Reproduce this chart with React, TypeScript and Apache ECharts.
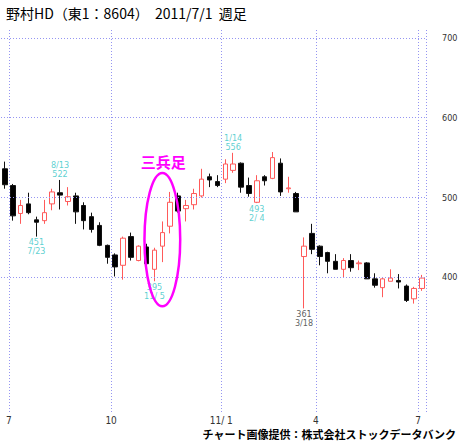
import React, { useEffect, useRef } from "react";
import * as echarts from "echarts";

// Weekly candles (week-ending dates), 2010/6/25 - 2011/7/1
const categories = [
  "2010/6/25", "2010/7/2", "2010/7/9", "2010/7/16", "2010/7/23", "2010/7/30",
  "2010/8/6", "2010/8/13", "2010/8/20", "2010/8/27", "2010/9/3", "2010/9/10",
  "2010/9/17", "2010/9/24", "2010/10/1", "2010/10/8", "2010/10/15", "2010/10/22",
  "2010/10/29", "2010/11/5", "2010/11/12", "2010/11/19", "2010/11/26", "2010/12/3",
  "2010/12/10", "2010/12/17", "2010/12/24", "2010/12/31", "2011/1/7", "2011/1/14",
  "2011/1/21", "2011/1/28", "2011/2/4", "2011/2/11", "2011/2/18", "2011/2/25",
  "2011/3/4", "2011/3/11", "2011/3/18", "2011/3/25", "2011/4/1", "2011/4/8",
  "2011/4/15", "2011/4/22", "2011/4/29", "2011/5/6", "2011/5/13", "2011/5/20",
  "2011/5/27", "2011/6/3", "2011/6/10", "2011/6/17", "2011/6/24", "2011/7/1",
];

const opens = [
  536, 515, 480, 492, 472, 471, 492, 506, 495, 502, 490, 476, 465, 440,
  428, 415, 451, 421, 438, 410, 439, 464, 502, 486, 491, 502, 526, 520,
  523, 534, 543, 515, 494, 526, 524, 543, 511, 505, 426, 455, 439, 431,
  420, 410, 421, 417, 418, 398, 387, 395, 396, 389, 373, 386,
];
const closes = [
  516, 477, 490, 481, 469, 481, 507, 503, 501, 482, 471, 460, 440, 425,
  413, 449, 425, 439, 417, 434, 456, 494, 483, 490, 505, 523, 522, 515,
  542, 542, 513, 505, 521, 521, 550, 507, 512, 482, 439, 435, 426, 420,
  410, 421, 412, 418, 398, 390, 398, 399, 394, 371, 386, 399,
];
const lows = [
  511, 471, 467, 479, 451, 467, 484, 485, 490, 467, 460, 456, 439, 417,
  401, 397, 421, 420, 416, 395, 419, 455, 481, 470, 485, 500, 513, 513,
  518, 531, 506, 501, 493, 515, 523, 502, 506, 482, 361, 429, 415, 405,
  410, 400, 407, 409, 398, 387, 375, 395, 386, 369, 367, 383,
];
const highs = [
  545, 517, 497, 506, 476, 497, 511, 522, 513, 506, 494, 481, 469, 441,
  430, 451, 456, 440, 442, 437, 470, 507, 506, 497, 511, 536, 530, 528,
  548, 556, 544, 525, 528, 528, 557, 549, 526, 507, 450, 467, 440, 432,
  429, 424, 429, 421, 419, 405, 400, 410, 404, 391, 388, 403,
];

// x tick positions (category index whose left boundary gets the line) and labels
const xTickIndex = [1, 14, 28, 40, 53];
const xTickLabels = ["7", "10", "11/ 1", "4", "7"];
// y grid values
const yGridValues = [400, 500, 600, 700];

// high / low annotations
const annIndex = [4, 7, 19, 29, 32, 38];
const annDate = ["7/23", "8/13", "11/ 5", "1/14", "2/ 4", "3/18"];
const annSide = ["low", "high", "low", "high", "low", "low"];
const annColor = ["#33c4c4", "#33c4c4", "#33c4c4", "#33c4c4", "#33c4c4", "#333333"];

// 三兵足 pattern candles
const patternFirst = 19;
const patternLast = 21;
const patternText = "三兵足";

const titleText = "野村HD（東1：8604）  2011/7/1  週足";
const creditText = "チャート画像提供：株式会社ストックデータバンク";

const narrowFont = '"Liberation Sans Narrow", "DejaVu Sans Condensed", "Arial Narrow", sans-serif';
const cjkFont = '"Noto Sans CJK JP", "Noto Sans", sans-serif';
const gridColor = "#9595f2";

export default function App() {
  const ref = useRef<HTMLDivElement>(null);

  useEffect(() => {
    const el = ref.current;
    if (!el) return;
    const chart = echarts.init(el, null, { renderer: "svg" });

    const candleData = opens.map((o, i) => [o, closes[i], lows[i], highs[i]]);
    const annData = annIndex.map((idx, k) => {
      const isHigh = annSide[k] === "high";
      const v = isHigh ? highs[idx] : lows[idx];
      return {
        value: [idx, v],
        label: {
          show: true,
          position: isHigh ? "top" : "bottom",
          distance: 1,
          formatter: isHigh ? `${annDate[k]}\n${v}` : `${v}\n${annDate[k]}`,
          color: annColor[k],
          fontSize: 9,
          lineHeight: 9,
          fontFamily: narrowFont,
        },
      };
    });

    chart.setOption({
      animation: false,
      backgroundColor: "#ffffff",
      grid: { left: 1, right: 32, top: 30, bottom: 35 },
      xAxis: {
        type: "category",
        data: categories,
        boundaryGap: true,
        axisLine: { show: false },
        axisTick: { show: false },
        splitLine: {
          show: true,
          interval: (idx: number) => xTickIndex.includes(idx),
          lineStyle: { color: gridColor, type: [1, 2], width: 1 },
        },
        axisLabel: {
          show: true,
          interval: (idx: number) => xTickIndex.includes(idx),
          formatter: (_v: string, idx: number) => {
            const k = xTickIndex.indexOf(idx);
            return k >= 0 ? xTickLabels[k] : "";
          },
          padding: [0, 8, 0, 0],
          margin: 3,
          color: "#333333",
          fontSize: 10,
          fontFamily: narrowFont,
        },
      },
      yAxis: {
        type: "value",
        min: 231.1,
        max: 710,
        show: true,
        axisLine: { show: false },
        axisTick: { show: false },
        axisLabel: { show: false },
        splitLine: { show: false },
      },
      series: [
        {
          type: "candlestick",
          data: candleData,
          barWidth: 5,
          itemStyle: {
            color: "#ffffff",
            color0: "#000000",
            borderColor: "#ff5a5a",
            borderColor0: "#111111",
            borderWidth: 1,
          },
          markLine: {
            silent: true,
            symbol: ["none", "none"],
            lineStyle: { color: gridColor, type: [1, 2], width: 1 },
            label: {
              show: true,
              position: "end",
              distance: 16,
              color: "#333333",
              fontSize: 9,
              fontFamily: narrowFont,
            },
            data: yGridValues.map((v) => ({ yAxis: v, label: { formatter: String(v) } })),
          },
          z: 3,
        },
        {
          type: "scatter",
          data: annData,
          symbolSize: 0,
          silent: true,
          z: 4,
        },
      ],
    });

    // ellipse around the 三兵 pattern
    let maxHigh = -Infinity;
    let minLow = Infinity;
    for (let i = patternFirst; i <= patternLast; i++) {
      maxHigh = Math.max(maxHigh, highs[i]);
      minLow = Math.min(minLow, lows[i]);
    }
    const mid = (patternFirst + patternLast) / 2;
    const pTop = chart.convertToPixel({ gridIndex: 0 } as any, [mid, maxHigh]) as number[];
    const pBot = chart.convertToPixel({ gridIndex: 0 } as any, [mid, minLow]) as number[];
    const pL = chart.convertToPixel({ gridIndex: 0 } as any, [patternFirst, minLow]) as number[];
    const pR = chart.convertToPixel({ gridIndex: 0 } as any, [patternLast, minLow]) as number[];
    const top = pTop[1] - 19;
    const bot = pBot[1] + 25;
    const cx = pTop[0];
    const rx = (pR[0] - pL[0]) / 2 + 10;

    chart.setOption({
      graphic: [
        {
          type: "text",
          x: 6,
          y: 13,
          style: {
            text: titleText,
            fontSize: 14,
            fontFamily: cjkFont,
            fill: "#000000",
            verticalAlign: "middle",
            align: "left",
          },
        },
        {
          type: "text",
          x: 456,
          y: 434,
          style: {
            text: creditText,
            fontSize: 11,
            fontWeight: "bold",
            fontFamily: cjkFont,
            fill: "#000000",
            verticalAlign: "middle",
            align: "right",
          },
        },
        {
          type: "ellipse",
          shape: { cx, cy: (top + bot) / 2, rx, ry: (bot - top) / 2 },
          style: { fill: "none", stroke: "#ff00ff", lineWidth: 2.5 },
          z: 100,
        },
        {
          type: "text",
          x: cx + 1,
          y: top - 11,
          style: {
            text: patternText,
            fontSize: 15,
            fontWeight: "bold",
            fontFamily: cjkFont,
            fill: "#ff00ff",
            align: "center",
            verticalAlign: "middle",
          },
          z: 100,
        },
      ],
    });

    return () => chart.dispose();
  }, []);

  return (
    <div
      ref={ref}
      style={{ position: "absolute", left: 0, top: 0, width: 458, height: 447 }}
    />
  );
}
